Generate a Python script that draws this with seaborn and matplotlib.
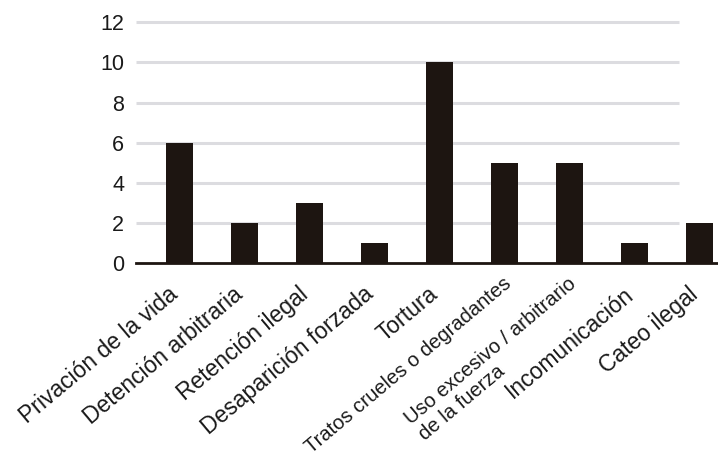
import matplotlib
matplotlib.use("Agg")
import matplotlib.pyplot as plt
import matplotlib.transforms as mtransforms
import seaborn as sns
import pandas as pd

# Data
categories = [
    "Privación de la vida",
    "Detención arbitraria",
    "Retención ilegal",
    "Desaparición forzada",
    "Tortura",
    "Tratos crueles o degradantes",
    "Uso excesivo / arbitrario\nde la fuerza",
    "Incomunicación",
    "Cateo ilegal",
]
values = [6, 2, 3, 1, 10, 5, 5, 1, 2]
y_ticks = [0, 2, 4, 6, 8, 10, 12]

sns.set_theme(style="white")
plt.rcParams["font.family"] = ["Liberation Sans", "DejaVu Sans"]

df = pd.DataFrame({"categoria": categories, "casos": values})

W, H = 718, 457
DPI = 100
fig = plt.figure(figsize=(W / DPI, H / DPI), dpi=DPI)
ax = fig.add_axes([136 / W, 193.7 / H, 582 / W, 241 / H])

bar_color = "#1d1511"
sns.barplot(data=df, x="categoria", y="casos", color=bar_color,
            width=0.415, saturation=1, edgecolor="none", ax=ax, zorder=3)

x_left, x_right = -0.669, 8.285
ax.set_xlim(x_left, x_right)
ax.set_ylim(0, 12)

# light horizontal guides
ax.hlines([t for t in y_ticks if t > 0], x_left, 7.685, color="#dcdce0",
          lw=2.2, zorder=1, clip_on=False)

for s in ["top", "right", "left"]:
    ax.spines[s].set_visible(False)
ax.spines["bottom"].set_color("#1d1511")
ax.spines["bottom"].set_linewidth(2)
ax.spines["bottom"].set_zorder(4)

ax.set_yticks(y_ticks)
ax.set_yticklabels([str(t) for t in y_ticks], fontsize=15.5, color="#1a1a1a")
ax.tick_params(axis="y", length=0, pad=8.5)

# category labels, slanted and anchored at their right end under each bar
ax.set_xticks(range(len(categories)))
ax.set_xticklabels([])
ax.tick_params(axis="x", length=0)
ax.set_xlabel("")
ax.set_ylabel("")

angle = 40
base = mtransforms.blended_transform_factory(ax.transData, ax.transAxes)
for i, name in enumerate(categories):
    small = name.startswith("Tratos") or name.startswith("Uso")
    if small:
        off = mtransforms.ScaledTranslation(-2 / DPI, -11 / DPI, fig.dpi_scale_trans)
        ax.text(i, 0, name, transform=base + off, rotation=angle,
                rotation_mode="anchor", ha="right", va="top",
                multialignment="left", fontsize=14.5, color="#1a1a1a",
                linespacing=1.15)
    else:
        off = mtransforms.ScaledTranslation(0 / DPI, -33 / DPI, fig.dpi_scale_trans)
        ax.text(i, 0, name, transform=base + off, rotation=angle,
                rotation_mode="anchor", ha="right", va="baseline",
                fontsize=16.5, color="#1a1a1a")

fig.savefig("out.png", dpi=DPI)
